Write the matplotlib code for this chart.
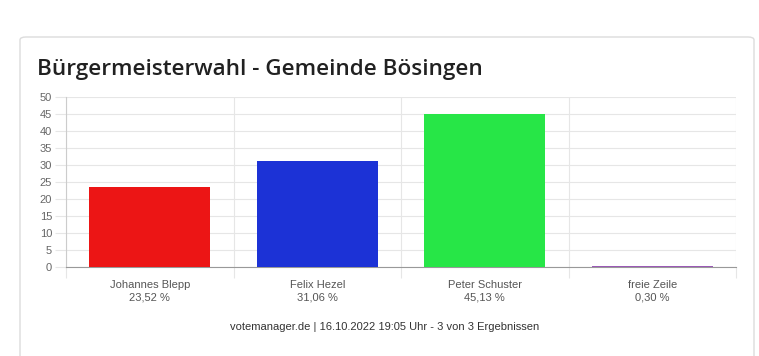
import matplotlib
matplotlib.use("Agg")
import matplotlib.pyplot as plt
from matplotlib.patches import FancyBboxPatch

candidates = ["Johannes Blepp", "Felix Hezel", "Peter Schuster", "freie Zeile"]
percent_labels = ["23,52 %", "31,06 %", "45,13 %", "0,30 %"]
values = [23.52, 31.06, 45.13, 0.30]
colors = ["#ec1515", "#1c32d6", "#27e647", "#9b59b6"]
yticks = [0, 5, 10, 15, 20, 25, 30, 35, 40, 45, 50]

W, H = 759, 356
fig = plt.figure(figsize=(W / 100, H / 100), dpi=100)
fig.patch.set_facecolor("white")

# card
card = FancyBboxPatch((20 / W, -0.1), (754 - 20) / W, (H - 37) / H + 0.1,
                      boxstyle="round,pad=0,rounding_size=0.008",
                      transform=fig.transFigure, facecolor="white",
                      edgecolor="#dcdcdc", linewidth=1.0, zorder=-10)
fig.patches.append(card)

fig.text(37 / W, 1 - 70 / H, "Bürgermeisterwahl - Gemeinde Bösingen",
         fontsize=16.2, family="Open Sans", fontweight="semibold",
         color="#212121", va="center", ha="left")

ax = fig.add_axes([66 / W, (H - 267) / H, (736 - 66) / W, (267 - 97) / H])
ax.set_zorder(5)
ax.patch.set_alpha(0)
x = list(range(len(values)))
ax.bar(x, values, width=0.72, color=colors, zorder=3)
ax.set_xlim(-0.5, len(values) - 0.5)
ax.set_ylim(0, 50)
ax.set_yticks(yticks)
ax.set_yticklabels([str(v) for v in yticks], fontsize=8, color="#666666",
                   family="Liberation Sans")
ax.yaxis.grid(True, color="#e6e6e6", linewidth=0.8, zorder=0)
bounds = [i - 0.5 for i in range(len(values) + 1)]
for b in bounds:
    ax.axvline(b, color="#e6e6e6", linewidth=0.8, zorder=0)
ax.set_xticks(bounds)
ax.set_xticklabels([""] * len(bounds))
ax.tick_params(axis="x", length=8, color="#e6e6e6", width=0.8)
ax.tick_params(axis="y", length=8, color="#e6e6e6", width=0.8, pad=2)
for s in ["top", "right"]:
    ax.spines[s].set_visible(False)
ax.spines["left"].set_color("#cccccc")
ax.spines["bottom"].set_color("#999999")
ax.spines["left"].set_linewidth(0.8)
ax.spines["bottom"].set_linewidth(0.8)

for i, (name, pct) in enumerate(zip(candidates, percent_labels)):
    ax.text(i, -0.075, name + "\n" + pct, transform=ax.get_xaxis_transform(),
            ha="center", va="top", fontsize=8, color="#555555",
            family="Liberation Sans", linespacing=1.35)

fig.text(385 / W, 1 - 327 / H,
         "votemanager.de | 16.10.2022 19:05 Uhr - 3 von 3 Ergebnissen",
         ha="center", va="center", fontsize=8, color="#333333",
         family="Liberation Sans")

fig.savefig("out.png", dpi=100, facecolor="white")
